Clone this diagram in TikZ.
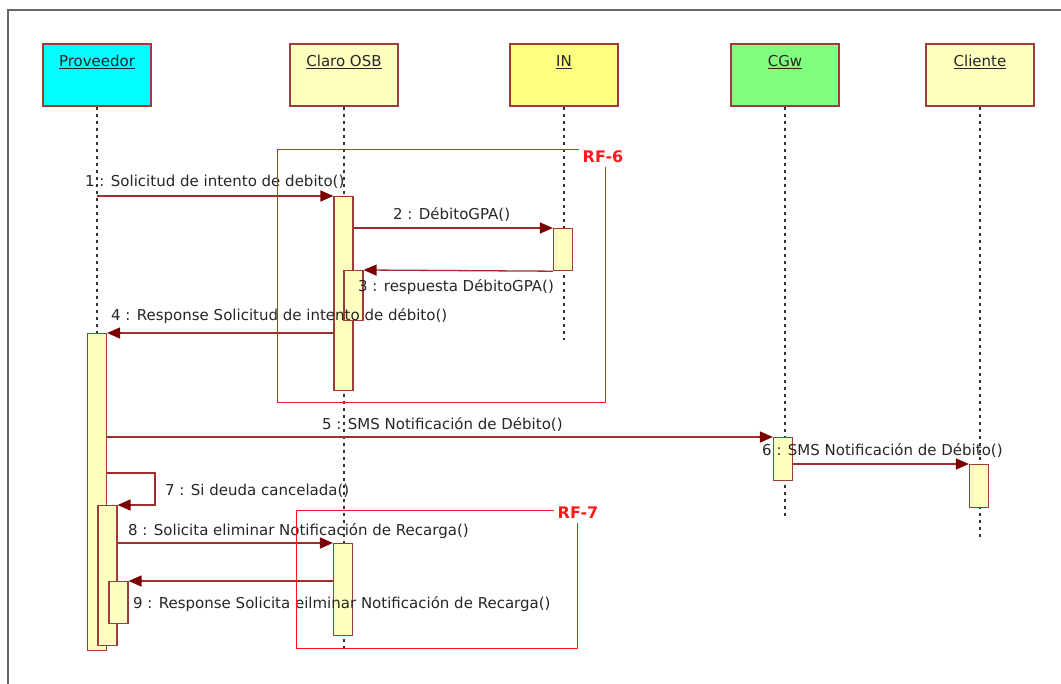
\documentclass[tikz,border=0pt]{standalone}
\usepackage{fontspec}
\setmainfont{DejaVu Sans}
\usepackage{tikz}
\usetikzlibrary{arrows.meta,positioning,calc}
\definecolor{border}{HTML}{9E3B3B}
\definecolor{msgline}{HTML}{A02C2C}
\definecolor{msgtip}{HTML}{7A0000}
\definecolor{actfill}{HTML}{FFFFC0}
\definecolor{provcyan}{HTML}{00FFFF}
\definecolor{inyellow}{HTML}{FFFF80}
\definecolor{cgwgreen}{HTML}{80FF80}
\definecolor{rfred}{HTML}{FF1A1A}
\definecolor{lifegray}{HTML}{333333}
\definecolor{framegray}{HTML}{666666}

\begin{document}
\begin{tikzpicture}[x=1pt, y=-1pt,
    every node/.style={font=\fontsize{15}{17}\selectfont, text=black!85},
    head/.style={rectangle, draw=border, line width=1.2pt, minimum width=108pt, text height=10pt, text depth=26pt, inner ysep=13pt},
    act/.style={rectangle, draw=border, fill=actfill, line width=1.2pt, minimum width=19pt, inner sep=0pt, anchor=north},
    msg/.style={draw=msgline, line width=1.3pt, -{Triangle[length=13pt,width=11pt,color=msgtip]}},
    lifeline/.style={draw=lifegray, line width=1.5pt, dash pattern=on 3pt off 4pt},
    lbl/.style={inner sep=0pt, anchor=west},
    rflabel/.style={font=\fontsize{16}{18}\selectfont\bfseries, text=rfred, inner sep=4pt},
    rfbox/.style={draw=rfred, line width=1pt}]
    \useasboundingbox (0,0) rectangle (1061,684);
    % Frame
    \draw[framegray, line width=1.5pt] (8,684) -- (8,10) -- (1061,10);

    % Lifeline heads
    \node[head, fill=provcyan] (prov) at (97,75) {\underline{Proveedor}};
    \node[head, fill=actfill] (osb) at (344,75) {\underline{Claro OSB}};
    \node[head, fill=inyellow] (in) at (564,75) {\underline{IN}};
    \node[head, fill=cgwgreen] (cgw) at (785,75) {\underline{CGw}};
    \node[head, fill=actfill] (cli) at (980,75) {\underline{Cliente}};

    % Lifelines
    \coordinate (osbend) at (344,650);
    \coordinate (inend) at (564,340);
    \coordinate (cgwend) at (785,517);
    \coordinate (cliend) at (980,537);
    \draw[lifeline] (osb.south) -- (osbend);
    \draw[lifeline] (in.south) -- (inend);
    \draw[lifeline] (cgw.south) -- (cgwend);
    \draw[lifeline] (cli.south) -- (cliend);

    % Activations
    \node[act, minimum height=317pt] (pact) at (97,333) {};
    \node[act, minimum height=140pt] (pact2) at (107.5,505) {};
    \node[act, minimum height=42pt] (pact3) at (118.5,581) {};
    \node[act, minimum height=194pt] (oact1) at (343.5,196) {};
    \node[act, minimum height=50pt] (oact2) at (353.5,270) {};
    \node[act, minimum height=92pt] (oact3) at (343,543) {};
    \node[act, minimum height=42pt] (iact) at (563,228) {};
    \node[act, minimum height=43pt] (cact) at (783,437) {};
    \node[act, minimum height=43pt] (clact) at (979,464) {};
    \draw[lifeline] (prov.south) -- (pact.north);

    % Messages
    \draw[msg] (prov |- oact1.north) -- (oact1.north west);
    \draw[msg] (oact1.east |- iact.north) -- (iact.north west);
    \draw[msg] (iact.south west) -- (oact2.north east);
    \draw[msg] (oact1.west |- pact.north) -- (pact.north east);
    \draw[msg] (pact.east |- cact.north) -- (cact.north west);
    \draw[msg] (cact.east |- clact.north) -- (clact.north west);
    \coordinate (self7) at (155,473);
    \draw[msg] (pact.east |- self7) -- (self7) |- (pact2.north east);
    \draw[msg] (pact2.east |- oact3.north) -- (oact3.north west);
    \draw[msg] (oact3.west |- pact3.north) -- (pact3.north east);

    % Message labels
    \node[lbl] (l1) at (85,182) {1 : Solicitud de intento de debito()};
    \node[lbl] (l2) at (393,214) {2 : DébitoGPA()};
    \node[lbl] (l3) at (358,287) {3 : respuesta DébitoGPA()};
    \node[lbl] (l4) at (111,316) {4 : Response Solicitud de intento de débito()};
    \node[lbl] (l5) at (322,424) {5 : SMS Notificación de Débito()};
    \node[lbl] (l6) at (762,450) {6 : SMS Notificación de Débito()};
    \node[lbl] (l7) at (165,491) {7 : Si deuda cancelada()};
    \node[lbl] (l8) at (128,531) {8 : Solicita eliminar Notificación de Recarga()};
    \node[lbl] (l9) at (133,604) {9 : Response Solicita eilminar Notificación de Recarga()};

    % Requirement frames
    \node[rflabel] (rf6) at (603,157) {RF-6};
    \coordinate (rf6a) at (277,150);
    \coordinate (rf6b) at (605,403);
    \draw[rfbox] (rf6.west |- rf6a) -- (rf6a) |- (rf6b) -- (rf6b |- rf6.south);
    \node[rflabel] (rf7) at (578,513) {RF-7};
    \coordinate (rf7a) at (296,511);
    \coordinate (rf7b) at (577,648);
    \draw[rfbox] (rf7.west |- rf7a) -- (rf7a) |- (rf7b) -- (rf7b |- rf7.south);
\end{tikzpicture}
\end{document}
